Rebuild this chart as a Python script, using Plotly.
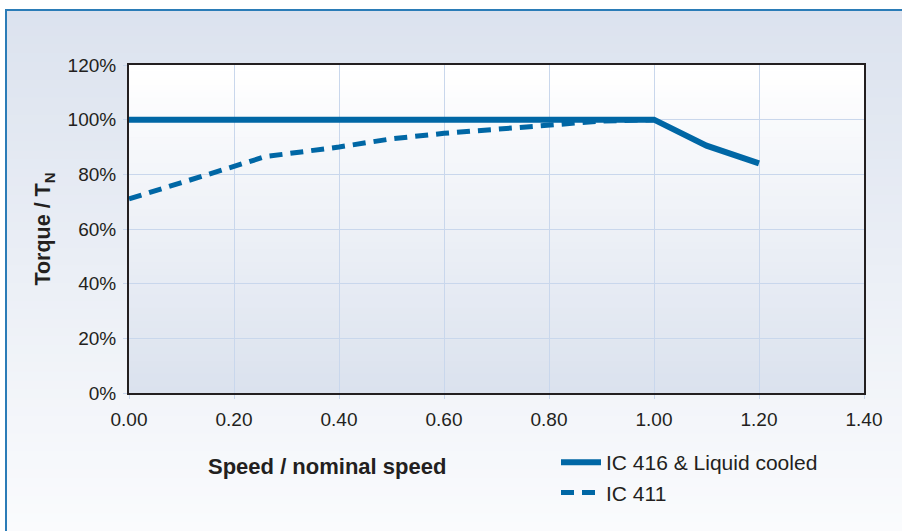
import plotly.graph_objects as go

# ---- data ----
speed_solid = [0.0, 0.2, 0.4, 0.6, 0.8, 1.0, 1.1, 1.2]
torque_solid = [100, 100, 100, 100, 100, 100, 90.5, 84]

speed_dash = [0.0, 0.1, 0.2, 0.26, 0.4, 0.5, 0.6, 0.7, 0.8, 0.9, 1.0]
torque_dash = [71, 77, 83, 86.5, 90, 93, 95, 96.5, 98, 99.5, 100]

x_ticks = [0.0, 0.2, 0.4, 0.6, 0.8, 1.0, 1.2, 1.4]
x_ticklabels = ["0.00", "0.20", "0.40", "0.60", "0.80", "1.00", "1.20", "1.40"]
y_ticks = [0, 20, 40, 60, 80, 100, 120]
y_ticklabels = ["0%", "20%", "40%", "60%", "80%", "100%", "120%"]

series_names = ["IC 416 & Liquid cooled", "IC 411"]

# ---- styling ----
W, H = 902, 531
ML, MR, MT, MB = 129, 38, 65, 138
PW, PH = W - ML - MR, H - MT - MB
BLUE = "#0067a5"
TXT = "#231f20"
GRID = "#c9d7ec"
FONT = "Liberation Sans, Arial, sans-serif"


def px2paper_x(px):
    return (px - ML) / PW


def px2paper_y(py):
    return (H - MB - py) / PH


def lerp_color(c1, c2, t):
    a = [int(c1[i:i + 2], 16) for i in (1, 3, 5)]
    b = [int(c2[i:i + 2], 16) for i in (1, 3, 5)]
    return "rgb(%d,%d,%d)" % tuple(round(a[k] + (b[k] - a[k]) * t) for k in range(3))


shapes = []
# outer background gradient (top bluish -> bottom near white)
N = 60
for i in range(N):
    y0 = H * i / N
    y1 = H * (i + 1) / N + 1
    shapes.append(dict(type="rect", xref="paper", yref="paper",
                       x0=px2paper_x(0), x1=px2paper_x(W),
                       y0=px2paper_y(y1), y1=px2paper_y(y0),
                       fillcolor=lerp_color("#dbe2ee", "#fafbfd", i / (N - 1)),
                       line=dict(width=0), layer="below"))
# white strip above / left of the frame
shapes.append(dict(type="rect", xref="paper", yref="paper",
                   x0=px2paper_x(0), x1=px2paper_x(W),
                   y0=px2paper_y(9), y1=px2paper_y(0),
                   fillcolor="#ffffff", line=dict(width=0), layer="below"))
shapes.append(dict(type="rect", xref="paper", yref="paper",
                   x0=px2paper_x(0), x1=px2paper_x(5),
                   y0=px2paper_y(H), y1=px2paper_y(0),
                   fillcolor="#ffffff", line=dict(width=0), layer="below"))
# frame border
shapes.append(dict(type="rect", xref="paper", yref="paper",
                   x0=px2paper_x(6), x1=px2paper_x(W + 10),
                   y0=px2paper_y(H + 10), y1=px2paper_y(10),
                   line=dict(color="#2b7cb7", width=2), layer="below"))
# plot area gradient (white top -> light blue bottom)
M = 50
for i in range(M):
    shapes.append(dict(type="rect", xref="paper", yref="paper",
                       x0=0, x1=1,
                       y0=1 - (i + 1) / M - 0.002, y1=1 - i / M,
                       fillcolor=lerp_color("#ffffff", "#dbe2ee", i / (M - 1)),
                       line=dict(width=0), layer="below"))

fig = go.Figure()
fig.add_trace(go.Scatter(x=speed_solid, y=torque_solid, mode="lines",
                         name=series_names[0],
                         line=dict(color=BLUE, width=6)))
fig.add_trace(go.Scatter(x=speed_dash, y=torque_dash, mode="lines",
                         name=series_names[1],
                         line=dict(color=BLUE, width=5, dash="13px,8px")))

fig.update_layout(
    width=W, height=H,
    margin=dict(l=ML, r=MR, t=MT, b=MB, pad=0),
    paper_bgcolor="#ffffff",
    plot_bgcolor="rgba(0,0,0,0)",
    font=dict(family=FONT, size=19, color=TXT),
    shapes=shapes,
    showlegend=True,
    legend=dict(x=px2paper_x(556), y=px2paper_y(442), xanchor="left", yanchor="top",
                bgcolor="rgba(0,0,0,0)", font=dict(size=21, color=TXT),
                tracegroupgap=0, itemwidth=40),
    annotations=[dict(text="<b>Speed / nominal speed</b>", xref="paper", yref="paper",
                      x=px2paper_x(327), y=px2paper_y(466), xanchor="center",
                      yanchor="middle", showarrow=False,
                      font=dict(size=22, color=TXT, family=FONT))],
)
fig.update_xaxes(range=[0, 1.4], tickvals=x_ticks, ticktext=x_ticklabels,
                 showgrid=True, gridcolor=GRID, gridwidth=1,
                 showline=True, linecolor=TXT, linewidth=2, mirror=True,
                 ticks="outside", ticklen=4, tickcolor=GRID, zeroline=False,
                 ticklabelstandoff=4)
fig.update_yaxes(range=[0, 120], tickvals=y_ticks, ticktext=y_ticklabels,
                 showgrid=True, gridcolor=GRID, gridwidth=1,
                 showline=True, linecolor=TXT, linewidth=2, mirror=True,
                 ticks="outside", ticklen=4, tickcolor=GRID, zeroline=False,
                 ticklabelstandoff=3,
                 title=dict(text="<b>Torque / T<sub>N</sub></b>", standoff=11,
                            font=dict(size=21.5, color=TXT)))

fig.write_html("out.html", config={"displayModeBar": False},
               post_script="document.body.style.margin='0';document.body.style.padding='0';")
